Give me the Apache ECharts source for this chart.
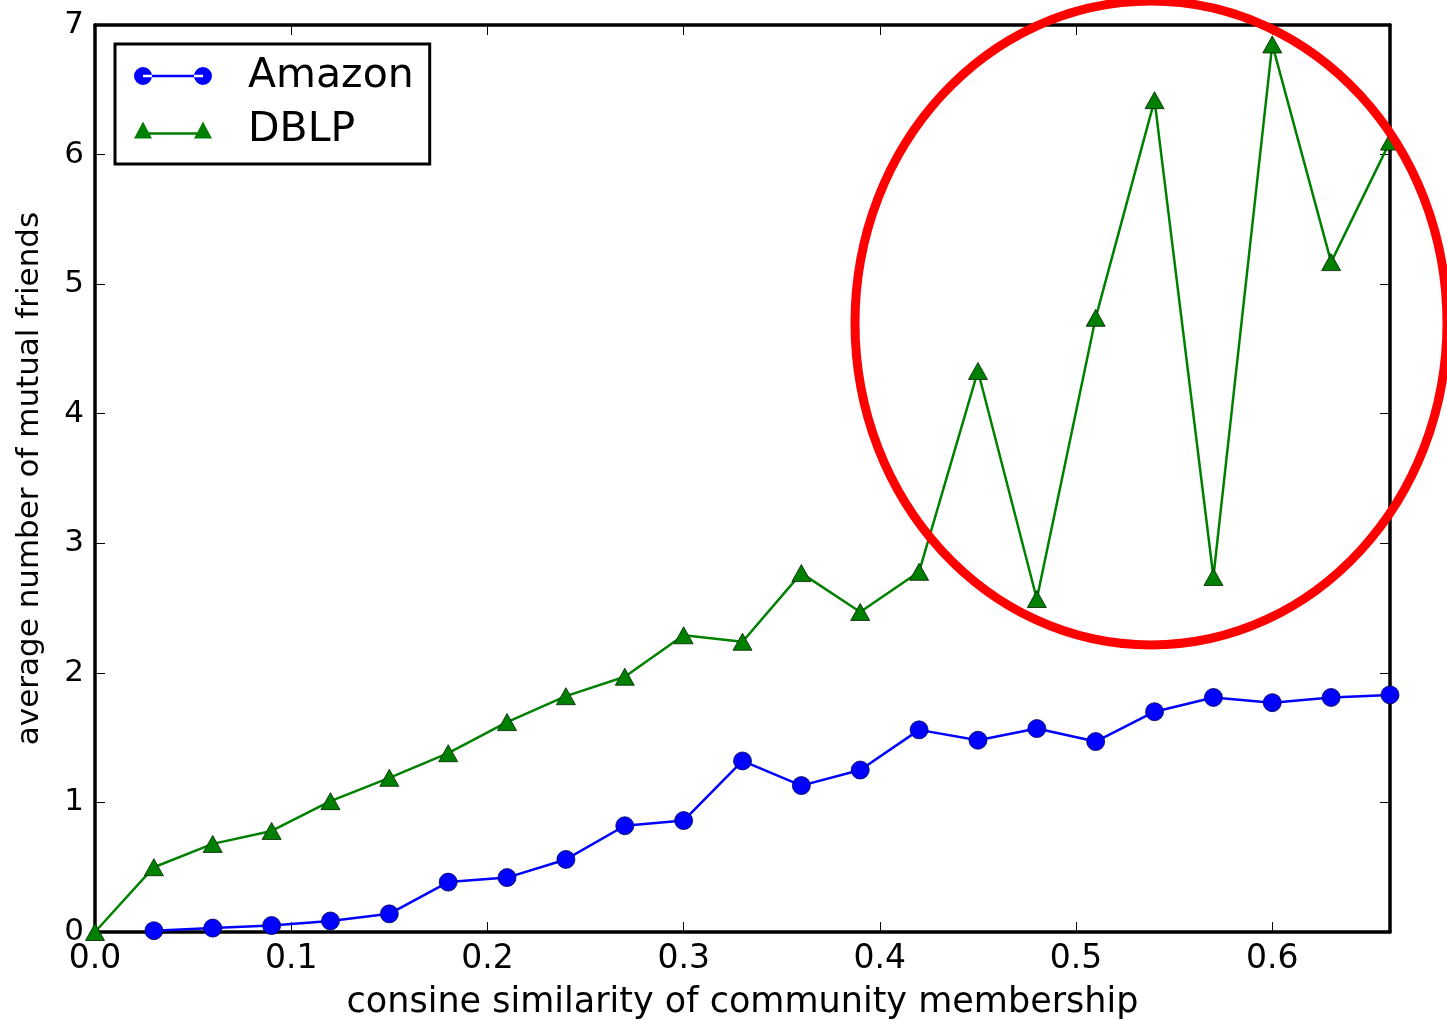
<!DOCTYPE html>
<html>
<head>
<meta charset="utf-8">
<script src="https://cdn.jsdelivr.net/npm/echarts@6/dist/echarts.min.js"></script>
<style>
html,body{margin:0;padding:0;background:#fff;}
#chart{width:1447px;height:1020px;}
</style>
</head>
<body>
<div id="chart"></div>
<script>
const similarity = [0.00,0.03,0.06,0.09,0.12,0.15,0.18,0.21,0.24,0.27,0.30,0.33,0.36,0.39,0.42,0.45,0.48,0.51,0.54,0.57,0.60,0.63,0.66];
const amazon = [null,0.01,0.03,0.05,0.085,0.14,0.385,0.42,0.56,0.82,0.86,1.32,1.13,1.25,1.56,1.48,1.57,1.47,1.70,1.81,1.77,1.81,1.83];
const dblp = [0.00,0.50,0.68,0.78,1.01,1.19,1.38,1.62,1.82,1.97,2.29,2.24,2.77,2.47,2.78,4.33,2.57,4.74,6.42,2.74,6.85,5.17,6.10];
const xTickValues = [0,0.1,0.2,0.3,0.4,0.5,0.6];
const xTicks = ['0.0','0.1','0.2','0.3','0.4','0.5','0.6'];
const yTicks = ['0','1','2','3','4','5','6','7'];

const pairs = (ys) => similarity.map((x,i)=>[x, ys[i]]).filter(p => p[1] !== null);

const FONT = 'DejaVu Sans';
const circleIcon = 'path://M0,9 a9,9 0 1,0 18,0 a9,9 0 1,0 -18,0 Z M9,7.8 L69,7.8 L69,10.2 L9,10.2 Z M60,9 a9,9 0 1,0 18,0 a9,9 0 1,0 -18,0 Z';
const triIcon = 'path://M0,18 L9,1 L18,18 Z M9,11.8 L69,11.8 L69,14.2 L9,14.2 Z M60,18 L69,1 L78,18 Z';

const lineSt = {show: true, onZero: false, lineStyle: {color: '#000', width: 3.5}};
const tickSt = {show: true, inside: true, length: 10, lineStyle: {color: '#000', width: 1}};
const fmtX = v => { const k = Math.round(v*10); return Math.abs(v*10-k) < 1e-6 ? xTicks[k] : ''; };
const fmtY = v => { const k = Math.round(v); return Math.abs(v-k) < 1e-6 ? yTicks[k] : ''; };

const chart = echarts.init(document.getElementById('chart'), null, {renderer: 'canvas'});
chart.setOption({
  animation: false,
  backgroundColor: '#fff',
  grid: {left: 95, top: 25, right: 57, bottom: 88, containLabel: false, outerBoundsMode: 'none'},
  xAxis: [
    {
      type: 'value', position: 'bottom', min: 0, max: 0.66, interval: 0.1,
      axisLine: lineSt, splitLine: {show: false},
      axisTick: Object.assign({customValues: xTickValues}, tickSt),
      axisLabel: {show: true, customValues: xTickValues, formatter: fmtX, color: '#000', fontFamily: FONT, fontSize: 33, margin: 11},
      name: 'consine similarity of community membership', nameLocation: 'middle', nameGap: 53,
      nameTextStyle: {color: '#000', fontFamily: FONT, fontSize: 35}
    },
    {
      type: 'value', position: 'top', min: 0, max: 0.66, interval: 0.1,
      axisLine: lineSt, splitLine: {show: false},
      axisTick: Object.assign({customValues: xTickValues}, tickSt),
      axisLabel: {show: false}
    }
  ],
  yAxis: [
    {
      type: 'value', position: 'left', min: 0, max: 7, interval: 1,
      axisLine: lineSt, splitLine: {show: false}, axisTick: tickSt,
      axisLabel: {show: true, formatter: fmtY, color: '#000', fontFamily: FONT, fontSize: 31, margin: 11},
      name: 'average number of mutual friends', nameLocation: 'middle', nameGap: 50,
      nameTextStyle: {color: '#000', fontFamily: FONT, fontSize: 31}
    },
    {
      type: 'value', position: 'right', min: 0, max: 7, interval: 1,
      axisLine: lineSt, splitLine: {show: false}, axisTick: tickSt,
      axisLabel: {show: false}
    }
  ],
  legend: {
    orient: 'vertical', left: 115, top: 44,
    padding: [10, 16, 12, 19],
    itemGap: 10,
    itemWidth: 78, itemHeight: 18,
    borderColor: '#000', borderWidth: 3, borderRadius: 0,
    backgroundColor: '#fff',
    textStyle: {color: '#000', fontFamily: FONT, fontSize: 41, lineHeight: 44, padding: [0, 0, 0, 31]},
    data: [
      {name: 'Amazon', icon: circleIcon, itemStyle: {color: '#0000ff', borderWidth: 0}},
      {name: 'DBLP', icon: triIcon, itemStyle: {color: '#008000', borderWidth: 0}}
    ]
  },
  series: [
    {
      name: 'Amazon', type: 'line', data: pairs(amazon),
      symbol: 'circle', symbolSize: 18,
      lineStyle: {color: '#0000ff', width: 2.5},
      itemStyle: {color: '#0000ff', borderColor: '#000050', borderWidth: 0.8},
      clip: true, z: 3
    },
    {
      name: 'DBLP', type: 'line', data: pairs(dblp),
      symbol: 'triangle', symbolSize: [19, 17],
      lineStyle: {color: '#008000', width: 2.5},
      itemStyle: {color: '#008000', borderColor: '#002000', borderWidth: 0.8},
      clip: true, z: 4
    }
  ],
  graphic: [
    {
      type: 'ellipse', z: 100,
      shape: {cx: 1151, cy: 323, rx: 296, ry: 322},
      style: {fill: 'none', stroke: '#ff0000', lineWidth: 9}
    }
  ]
});
</script>
</body>
</html>
